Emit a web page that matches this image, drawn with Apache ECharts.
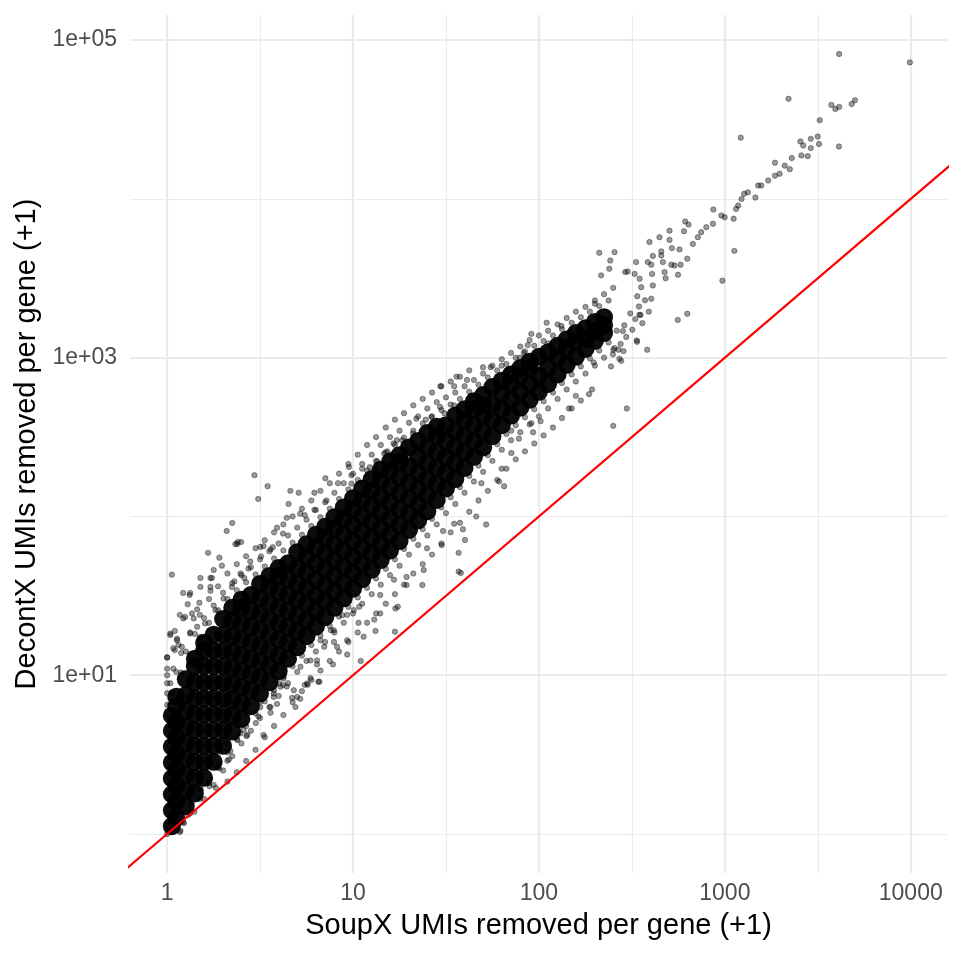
<!DOCTYPE html>
<html>
<head>
<meta charset="utf-8">
<title>DecontX vs SoupX</title>
<script src="https://cdn.jsdelivr.net/npm/echarts@6.0.0/dist/echarts.min.js"></script>
<style>
    html, body { margin: 0; padding: 0; background: #fff; }
    #container { width: 960px; height: 960px; }
</style>
</head>
<body>
<div id="container"></div>
<script type="text/javascript">
    // axis breaks (values on the original scale, axes are log10)
    var xTickValues = [1, 10, 100, 1000, 10000];
    var xTickLabels = ['1', '10', '100', '1000', '10000'];
    var xMinorValues = [3.162, 31.62, 316.2, 3162];
    var yTickValues = [10, 1000, 100000];
    var yTickLabels = ['1e+01', '1e+03', '1e+05'];
    var yMinorValues = [1, 100, 10000];
    var identityEnds = [0.5, 20000];

    // dense core of the cloud: SoupX value and the DecontX values read at it
    var bandX = [1.06, 1.12, 1.26, 1.41, 1.58, 1.78, 2.0, 2.24, 2.51, 2.82, 3.16, 3.55, 3.98, 4.47, 5.01, 5.62,
        6.31, 7.08, 7.94, 8.91, 10, 11.2, 12.6, 14.1, 15.8, 17.8, 20, 22.4, 25.1, 28.2, 31.6, 35.5, 39.8, 44.7,
        50.1, 56.2, 63.1, 70.8, 79.4, 89.1, 100, 112, 126, 141, 158, 178, 200, 224];
    var bandY = [
        [1.12, 1.41, 1.78, 2.24, 2.82, 3.55, 4.47, 5.56],
        [1.27, 1.60, 2.02, 2.54, 3.20, 4.03, 5.07, 6.38, 7.33],
        [1.50, 1.88, 2.37, 2.99, 3.76, 4.73, 5.96, 7.50, 9.44],
        [1.80, 2.26, 2.85, 3.59, 4.52, 5.69, 7.16, 9.02, 11.4, 12.7],
        [2.26, 2.85, 3.59, 4.52, 5.69, 7.16, 9.02, 11.4, 14.3, 16.0],
        [2.85, 3.59, 4.52, 5.69, 7.16, 9.02, 11.4, 14.3, 18.0],
        [3.59, 4.52, 5.69, 7.16, 9.02, 11.4, 14.3, 18.0, 22.6],
        [4.42, 5.56, 7.00, 8.81, 11.1, 14.0, 17.6, 22.1, 26.6],
        [5.31, 6.68, 8.41, 10.6, 13.3, 16.8, 21.1, 26.6, 29.9],
        [6.38, 8.04, 10.1, 12.7, 16.0, 20.2, 25.4, 32.0],
        [7.67, 9.66, 12.2, 15.3, 19.3, 24.3, 30.5, 37.6],
        [9.02, 11.4, 14.3, 18.0, 22.6, 28.5, 35.9, 42.2],
        [10.6, 13.3, 16.8, 21.1, 26.6, 33.5, 42.2, 47.3],
        [12.7, 16.0, 20.2, 25.4, 32.0, 40.3, 50.7],
        [15.0, 18.8, 23.7, 29.9, 37.6, 47.3, 59.6],
        [17.6, 22.1, 27.9, 35.1, 44.2, 55.6, 66.8],
        [20.2, 25.4, 32.0, 40.3, 50.7, 63.8, 76.7],
        [23.2, 29.2, 36.7, 46.2, 58.2, 73.3, 86.1],
        [26.6, 33.5, 42.2, 53.1, 66.8, 84.1, 98.9],
        [30.5, 38.5, 48.4, 61.0, 76.7, 96.6, 114],
        [35.1, 44.2, 55.6, 70.0, 88.1, 111, 130],
        [40.3, 50.7, 63.8, 80.4, 101, 127, 150],
        [46.2, 58.2, 73.3, 92.3, 116, 146, 172],
        [53.1, 66.8, 84.1, 106, 133, 168, 197],
        [61.0, 76.7, 96.6, 122, 153, 193, 221],
        [70.0, 88.1, 111, 140, 176, 221, 243],
        [82.2, 104, 130, 164, 207, 272],
        [94.4, 119, 150, 188, 237, 299],
        [108, 136, 172, 216, 272, 335],
        [127, 160, 202, 254, 320, 367],
        [150, 188, 237, 299, 376],
        [172, 216, 272, 343, 432],
        [202, 254, 320, 403, 473],
        [237, 299, 376, 473, 531],
        [272, 343, 432, 501, 582],
        [320, 403, 507, 653],
        [376, 473, 596, 716],
        [432, 543, 684, 785],
        [484, 610, 767, 861],
        [543, 684, 861, 944],
        [610, 767, 1012],
        [684, 861, 1084],
        [785, 989, 1189],
        [902, 1135, 1303],
        [1012, 1274, 1429],
        [1135, 1318, 1531],
        [1274, 1462, 1679],
        [1429, 1600, 1799]
    ];

    // single genes standing apart from the core: [SoupX, DecontX]
    var genePoints = [
        [1, 1], [1, 6.5], [1, 7.7], [1, 8.9], [1, 10], [1, 11], [1, 12.9], [1.04, 8.9], [1.04, 18.3], [1.08, 11],
        [1.08, 14.8], [1.13, 17], [1.06, 43], [1.1, 19], [1.15, 15.5], [1.17, 24], [1.22, 33], [1.29, 28],
        [1.25, 23.3], [1.36, 24.5], [1.45, 26], [1.45, 20.2], [1.51, 16.6], [1.51, 36], [1.51, 41], [1.71, 41],
        [1.71, 36], [1.32, 32], [1.66, 59], [1.91, 55], [1.97, 49], [1.78, 46], [2.09, 81], [2.24, 91], [2.4, 69],
        [2.5, 69], [2.33, 67], [2.6, 41], [2.3, 39], [2.8, 52], [2.95, 182], [3.09, 129], [3.47, 155], [3.3, 65],
        [3.2, 56], [3.6, 62], [3.7, 64], [3.9, 85], [4.2, 78], [4.4, 98], [4.5, 120], [4.6, 145], [5.1, 141],
        [5.2, 104], [5.5, 102], [6.2, 110], [6.2, 141], [7.1, 174], [7.2, 126], [8.3, 162], [9.5, 205], [9.8, 182],
        [9.8, 161], [11, 162], [11.2, 200], [12.3, 204], [13.5, 222], [13.5, 200], [14.7, 249], [15.3, 257],
        [16, 245], [16.5, 288], [17.2, 302], [18.4, 302], [19.6, 263], [21, 333], [21.9, 413], [24.6, 407],
        [26.4, 423], [29.4, 489], [29.5, 661], [31, 447], [35, 501], [35, 661], [36, 760], [41, 724], [43, 575],
        [50, 871], [55, 871], [58, 708], [63, 891], [68, 832], [79, 1000], [83, 1072], [87, 1200], [91, 1413],
        [110, 1660], [112, 1230], [132, 1585], [148, 1445], [200, 2188], [211, 4580], [216, 3300], [239, 3630],
        [242, 4090], [255, 4620], [291, 3460], [300, 3490], [327, 3370], [333, 4000], [338, 2440], [348, 3140],
        [355, 2780], [352, 1860], [385, 4000], [393, 5350], [402, 3850], [402, 2350], [406, 3370], [410, 4370],
        [410, 2850], [445, 5740], [455, 4670], [455, 4400], [464, 4000], [474, 3460], [480, 3170], [504, 6310],
        [504, 5520], [515, 3850], [519, 4900], [536, 3810], [558, 1730], [560, 3330], [570, 4810], [578, 3850],
        [603, 6260], [612, 7210], [628, 4200], [628, 1890], [638, 6890], [673, 5210], [716, 5740], [746, 6170],
        [795, 6640], [863, 6970], [867, 8570], [958, 7870], [970, 3055], [998, 7670], [1115, 7500], [1125, 4710],
        [1150, 8650], [1180, 9080], [1217, 24300], [1230, 10000], [1270, 10770], [1330, 11000], [1460, 10200],
        [1510, 12150], [1570, 12150], [1710, 13060], [1860, 14000], [1860, 16900], [1970, 14400], [2100, 16200],
        [2200, 42700], [2235, 15400], [2290, 18100], [2550, 23000], [2580, 18800], [2640, 21700], [2790, 18600],
        [2900, 23900], [2900, 20900], [3160, 24700], [3210, 22200], [3240, 31300], [3740, 39100], [3930, 36900],
        [4110, 21400], [4120, 38000], [4120, 81800], [4810, 39600], [5010, 41800], [9890, 72400],
        [1.17, 1.03], [1.22, 1.19], [1.18, 1.05], [1.23, 1.17], [1.3, 1.32], [1.33, 1.56], [1.39, 1.89],
        [1.4, 1.38], [1.5, 1.95], [1.52, 1.91], [1.51, 2.3], [1.69, 2.0], [1.7, 2.24], [1.71, 2.79], [1.7, 3.2],
        [1.91, 2.59], [1.93, 3.38], [1.9, 2.8], [2.11, 2.89], [2.1, 3.72], [2.15, 2.95], [2.19, 3.34], [2.39, 3.9],
        [2.4, 4.9], [2.48, 4.3], [2.67, 4.14], [2.69, 5.75], [2.7, 4.2], [3.0, 5.0], [3.1, 5.5], [3.17, 6.8],
        [3.3, 4.2], [3.6, 5.8], [3.6, 6.3], [3.74, 7.3], [3.9, 6.6], [4.0, 8.9], [4.2, 8.7], [4.4, 8.5], [4.7, 7.2],
        [4.8, 8.05], [4.9, 6.3], [5.0, 7.3], [5.2, 7.1], [5.5, 8.7], [5.7, 8.7], [5.9, 9.6], [6.4, 11.7],
        [6.4, 12.4], [6.5, 9.1], [6.6, 9.1], [7.0, 15.1], [7.6, 19.2], [7.8, 11.7], [7.9, 16.2], [8.2, 15.1],
        [9.3, 13.5], [9.3, 24], [9.6, 34], [10.7, 21.4], [10.8, 27], [11, 12.3], [11.4, 17.5], [13, 22.4],
        [13.2, 19], [14, 24.5], [14, 32], [16.6, 40], [16.8, 18.8], [16.9, 26.3], [17.4, 27], [19.4, 37],
        [19.4, 41.6], [23.6, 37], [24, 46], [25, 63], [30, 66], [30.5, 81], [35, 90], [37, 45], [37, 59], [38, 44],
        [39, 83], [40, 71], [46, 100], [49, 162], [52, 89], [61, 166], [63, 200], [65, 155], [71, 251], [71, 347],
        [78, 309], [91, 387], [93, 339], [102, 398], [145, 479], [158, 575], [186, 589], [193, 631], [197, 934],
        [244, 881], [251, 372], [268, 1122], [271, 986], [277, 955], [283, 1470], [297, 479], [336, 1285],
        [337, 1259], [347, 1862], [382, 1122],
        [255, 1150], [262, 1480], [275, 1220], [288, 1600], [295, 1350], [310, 1900], [318, 1500], [330, 1750],
        [345, 2100], [360, 1650], [372, 2300], [390, 1950], [250, 1050], [285, 1100],
        [1.74, 41], [1.33, 33], [1.49, 28.6], [1.71, 34], [1.22, 22.8], [1.39, 22.8], [1.04, 17.9], [1.13, 16.6],
        [1, 13], [1.1, 14.4], [1.2, 15.1], [1.33, 18.3], [1.6, 21.2], [1.82, 25.7], [2.01, 30.4], [2.23, 36],
        [2.48, 43.7], [2.74, 47], [3.17, 64.3], [2.38, 67],
        [5.66, 8.87], [4.07, 8.45], [3.74, 7.68], [3.17, 6.3], [2.58, 4.51], [8.75, 23.9], [7.88, 19.2],
        [6.68, 16.6], [5.9, 12.4], [5.21, 11.3], [4.24, 9.77], [9.3, 16.6], [10.1, 25.7]
    ];

    // genes sitting right on the rim of the core: [SoupX, DecontX]
    var rimPoints = [
        [1.06, 7.76], [1.19, 10.4], [1.33, 13.6], [1.5, 17.4], [1.68, 21.4], [1.88, 25.7], [2.11, 30.2],
        [2.37, 34.3], [2.66, 38.5], [2.99, 43.2], [3.35, 48.4], [3.76, 54.3], [4.22, 61.0], [4.73, 68.4],
        [5.31, 76.7], [5.96, 87.1], [6.68, 98.9], [7.5, 112], [8.41, 129], [9.44, 148], [10.6, 170], [11.9, 195],
        [13.3, 224], [15, 254], [16.8, 282], [18.8, 313], [21.1, 347], [23.7, 385], [26.6, 427], [29.9, 468],
        [33.5, 507], [37.6, 550], [42.2, 610], [47.3, 676], [53.1, 750], [59.6, 832], [66.8, 912], [75, 1000],
        [84.1, 1096], [94.4, 1189], [106, 1274], [119, 1380], [133, 1514], [150, 1660], [168, 1799], [188, 1950],
        [211, 2113], [237, 2291],
        [1.33, 1.35], [1.5, 1.66], [1.68, 2.09], [1.88, 2.63], [2.11, 3.27], [2.37, 3.98], [2.66, 4.79],
        [2.99, 5.75], [3.35, 6.84], [3.76, 8.04], [4.22, 9.55], [4.73, 11.4], [5.31, 13.3], [5.96, 15.5],
        [6.68, 17.8], [7.5, 20.4], [8.41, 23.4], [9.44, 26.9], [10.6, 30.9], [11.9, 35.5], [13.3, 40.7],
        [15, 46.8], [16.8, 53.7], [18.8, 62.4], [21.1, 72.4], [23.7, 83.2], [26.6, 96.6], [29.9, 114],
        [33.5, 132], [37.6, 153], [42.2, 180], [47.3, 209], [53.1, 243], [59.6, 285], [66.8, 331], [75, 376],
        [84.1, 422], [94.4, 473], [106, 531], [119, 603], [133, 692], [150, 785], [168, 881], [188, 989],
        [211, 1109], [237, 1245]
    ];

    // looser genes a little further out on both sides of the core: [SoupX, DecontX]
    var fringePoints = [
        [1.12, 10.5], [1.19, 13.8], [1.26, 14.1], [1.33, 18.6], [1.41, 18.2], [1.5, 24], [1.58, 22.9],
        [1.68, 30.2], [1.78, 27.5], [1.88, 36.3], [2.0, 33.1], [2.11, 43.7], [2.24, 38], [2.37, 50.1],
        [2.51, 42.7], [2.66, 56.2], [2.82, 47.9], [2.99, 63.1], [3.16, 53.7], [3.35, 70.8], [3.55, 60.3],
        [3.76, 79.4], [3.98, 67.6], [4.22, 89.1], [4.47, 75.9], [4.73, 100], [5.01, 85.1], [5.31, 112],
        [5.62, 95.5], [5.96, 126], [6.31, 110], [6.68, 145], [7.08, 123], [7.5, 162], [7.94, 141], [8.41, 186],
        [8.91, 162], [9.44, 214], [10, 186], [10.6, 245], [11.2, 214], [11.9, 282], [12.6, 245], [13.3, 316],
        [14.1, 282], [15, 363], [15.8, 316], [16.8, 407], [17.8, 347], [18.8, 447], [20, 389], [21.1, 501],
        [22.4, 427], [23.7, 550], [25.1, 479], [26.6, 603], [28.2, 525], [29.9, 661], [31.6, 562], [33.5, 708],
        [35.5, 603], [37.6, 759], [39.8, 661], [42.2, 832], [44.7, 724], [50.1, 794], [56.2, 891], [63.1, 977],
        [70.8, 1072], [79.4, 1175], [89.1, 1288], [100, 1380], [112, 1479], [126, 1622], [141, 1778],
        [158, 1950], [178, 2089], [200, 2291], [224, 2512], [251, 2754],
        [1.58, 1.66], [1.78, 2.04], [1.83, 1.95], [2.0, 2.51], [2.11, 2.14], [2.24, 3.09], [2.37, 2.45],
        [2.51, 3.72], [2.66, 2.88], [2.82, 4.47], [2.99, 3.39], [3.16, 5.37], [3.35, 4.07], [3.55, 6.31],
        [3.76, 4.79], [3.98, 7.41], [4.22, 5.62], [4.47, 8.91], [4.73, 6.76], [5.01, 10.5], [5.31, 7.94],
        [5.62, 12.3], [5.96, 9.33], [6.31, 14.1], [6.68, 10.7], [7.08, 16.2], [7.5, 12.3], [7.94, 18.6],
        [8.41, 14.1], [8.91, 21.4], [9.44, 16.2], [10, 24.5], [10.6, 18.6], [11.2, 28.2], [11.9, 21.4],
        [12.6, 32.4], [13.3, 24.5], [14.1, 37.2], [15, 28.2], [15.8, 42.7], [16.8, 32.4], [17.8, 49],
        [18.8, 37.2], [20, 57.5], [21.1, 43.7], [22.4, 66.1], [23.7, 50.1], [25.1, 75.9], [26.6, 57.5],
        [28.2, 89.1], [29.9, 67.6], [31.6, 105], [33.5, 79.4], [35.5, 120], [37.6, 91.2], [39.8, 141],
        [42.2, 107], [44.7, 166], [47.3, 126], [50.1, 191], [53.1, 145], [56.2, 224], [59.6, 170], [63.1, 263],
        [66.8, 200], [70.8, 302], [75, 229], [79.4, 339], [84.1, 257], [89.1, 380], [94.4, 288], [100, 427],
        [106, 324], [112, 479], [119, 363], [126, 550], [133, 417], [141, 631], [150, 479], [158, 708],
        [168, 537], [178, 794], [200, 891], [224, 1000], [251, 1122]
    ];

    var lg = Math.log10;

    var corePts = [];
    bandX.forEach(function (x, i) {
        bandY[i].forEach(function (y) {
            corePts.push([lg(x), lg(y)]);
        });
    });
    var genePts = genePoints.concat(rimPoints, fringePoints).map(function (p) {
        return [lg(p[0]), lg(p[1])];
    });
    var idPts = identityEnds.map(function (v) { return [lg(v), lg(v)]; });

    // ggplot style 5% expansion of the data range
    function expanded(vals) {
        var lo = Math.min.apply(null, vals), hi = Math.max.apply(null, vals);
        var pad = (hi - lo) * 0.05;
        return [lo - pad, hi + pad];
    }
    var allPts = corePts.concat(genePts);
    var xRange = expanded(allPts.map(function (p) { return p[0]; }));
    var yRange = expanded(allPts.map(function (p) { return p[1]; }));

    function tickLabel(values, labels) {
        return function (v) {
            for (var i = 0; i < values.length; i++) {
                if (Math.abs(lg(values[i]) - v) < 1e-6) return labels[i];
            }
            return '';
        };
    }

    var gridColor = '#ebebeb';
    var gridLines = [];
    xTickValues.forEach(function (v) { gridLines.push({xAxis: lg(v), lineStyle: {color: gridColor, width: 2.2, type: 'solid'}}); });
    xMinorValues.forEach(function (v) { gridLines.push({xAxis: lg(v), lineStyle: {color: gridColor, width: 1.1, type: 'solid'}}); });
    yTickValues.forEach(function (v) { gridLines.push({yAxis: lg(v), lineStyle: {color: gridColor, width: 2.2, type: 'solid'}}); });
    yMinorValues.forEach(function (v) { gridLines.push({yAxis: lg(v), lineStyle: {color: gridColor, width: 1.1, type: 'solid'}}); });

    var fontFamily = '"Liberation Sans", Arial, Helvetica, sans-serif';

    var dom = document.getElementById('container');
    var myChart = echarts.init(dom);

    var option = {
        animation: false,
        backgroundColor: '#ffffff',
        grid: {
            left: 130,
            right: 13,
            top: 15,
            bottom: 87
        },
        xAxis: {
            type: 'value',
            min: xRange[0],
            max: xRange[1],
            name: 'SoupX UMIs removed per gene (+1)',
            nameLocation: 'middle',
            nameGap: 38,
            nameTextStyle: {color: '#000000', fontSize: 29, fontFamily: fontFamily},
            axisLine: {show: false},
            axisTick: {show: false},
            splitLine: {show: false},
            axisLabel: {
                customValues: xTickValues.map(lg),
                formatter: tickLabel(xTickValues, xTickLabels),
                color: '#4d4d4d',
                fontSize: 23,
                fontFamily: fontFamily,
                margin: 9
            }
        },
        yAxis: {
            type: 'value',
            min: yRange[0],
            max: yRange[1],
            name: 'DecontX UMIs removed per gene (+1)',
            nameLocation: 'middle',
            nameGap: 79,
            nameTextStyle: {color: '#000000', fontSize: 29, fontFamily: fontFamily},
            axisLine: {show: false},
            axisTick: {show: false},
            splitLine: {show: false},
            axisLabel: {
                customValues: yTickValues.map(lg),
                formatter: tickLabel(yTickValues, yTickLabels),
                color: '#4d4d4d',
                fontSize: 23,
                fontFamily: fontFamily,
                margin: 13
            }
        },
        series: [
            {
                name: 'core',
                type: 'scatter',
                data: corePts,
                symbolSize: 18,
                z: 2,
                silent: true,
                itemStyle: {color: '#000000', opacity: 0.95}
            },
            {
                name: 'genes',
                type: 'scatter',
                data: genePts,
                symbolSize: 5.4,
                z: 3,
                silent: true,
                itemStyle: {color: 'rgba(0,0,0,0.5)', borderColor: 'rgba(0,0,0,0.55)', borderWidth: 0.8}
            },
            {
                name: 'identity',
                type: 'line',
                data: idPts,
                showSymbol: false,
                z: 5,
                silent: true,
                lineStyle: {color: '#ff0000', width: 2.2},
                markLine: {
                    z: 1,
                    silent: true,
                    symbol: 'none',
                    label: {show: false},
                    data: gridLines
                }
            }
        ]
    };

    if (option && typeof option === 'object') {
        myChart.setOption(option, true);
    }
</script>
</body>
</html>
